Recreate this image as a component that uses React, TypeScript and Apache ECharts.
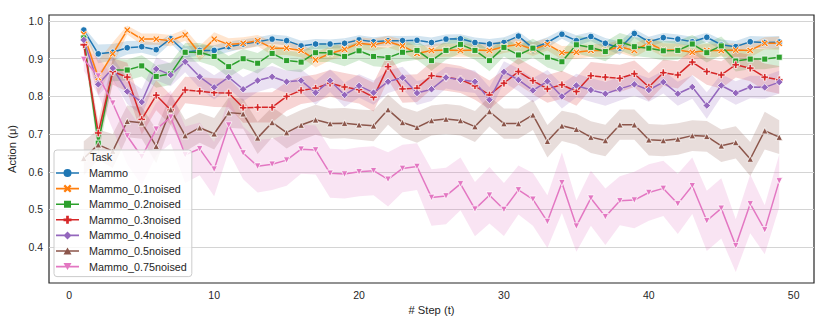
import React, { useEffect, useRef } from 'react';
import * as echarts from 'echarts';

const steps = [
  1, 2, 3, 4, 5, 6, 7, 8, 9, 10, 11, 12, 13, 14, 15, 16, 17, 18, 19, 20, 21, 22, 23, 24, 25,
  26, 27, 28, 29, 30, 31, 32, 33, 34, 35, 36, 37, 38, 39, 40, 41, 42, 43, 44, 45, 46, 47, 48, 49,
];

const taskNames = [
  'Mammo',
  'Mammo_0.1noised',
  'Mammo_0.2noised',
  'Mammo_0.3noised',
  'Mammo_0.4noised',
  'Mammo_0.5noised',
  'Mammo_0.75noised',
];

const mammo = [
  0.976, 0.913, 0.917, 0.929, 0.932, 0.924, 0.953, 0.918, 0.922, 0.922, 0.932, 0.939, 0.945, 0.952, 0.948,
  0.934, 0.939, 0.939, 0.941, 0.95, 0.945, 0.948, 0.948, 0.949, 0.943, 0.952, 0.953, 0.943, 0.939, 0.943,
  0.96, 0.928, 0.943, 0.965, 0.948, 0.959, 0.941, 0.928, 0.967, 0.945, 0.956, 0.952, 0.945, 0.957, 0.937,
  0.932, 0.945, 0.943, 0.944,
];
const mammoCi = [
  0.008, 0.025, 0.022, 0.018, 0.016, 0.018, 0.012, 0.015, 0.014, 0.014, 0.014, 0.012, 0.012, 0.012, 0.013,
  0.014, 0.013, 0.012, 0.013, 0.012, 0.012, 0.013, 0.012, 0.012, 0.013, 0.012, 0.012, 0.013, 0.013, 0.014,
  0.012, 0.016, 0.014, 0.012, 0.014, 0.012, 0.014, 0.018, 0.012, 0.013, 0.012, 0.012, 0.013, 0.012, 0.014,
  0.015, 0.015, 0.016, 0.016,
];

const noised01 = [
  0.965, 0.85, 0.913, 0.976, 0.952, 0.952, 0.948, 0.963, 0.914, 0.952, 0.938, 0.941, 0.948, 0.928, 0.928,
  0.922, 0.897, 0.914, 0.925, 0.941, 0.937, 0.945, 0.934, 0.914, 0.922, 0.923, 0.922, 0.923, 0.922, 0.932,
  0.938, 0.925, 0.938, 0.916, 0.917, 0.922, 0.922, 0.932, 0.922, 0.941, 0.923, 0.923, 0.917, 0.922, 0.922,
  0.923, 0.922, 0.941, 0.941,
];
const noised01Ci = [
  0.012, 0.045, 0.03, 0.012, 0.015, 0.015, 0.015, 0.015, 0.02, 0.018, 0.016, 0.016, 0.015, 0.018, 0.018,
  0.018, 0.02, 0.018, 0.017, 0.016, 0.016, 0.015, 0.017, 0.018, 0.018, 0.018, 0.017, 0.018, 0.018, 0.017,
  0.016, 0.018, 0.016, 0.018, 0.018, 0.017, 0.017, 0.017, 0.018, 0.016, 0.018, 0.017, 0.018, 0.018, 0.017,
  0.018, 0.018, 0.016, 0.017,
];

const noised02 = [
  0.955, 0.676, 0.87, 0.87, 0.881, 0.853, 0.86, 0.917, 0.917, 0.906, 0.879, 0.9, 0.888, 0.914, 0.895,
  0.891, 0.916, 0.916, 0.906, 0.921, 0.906, 0.903, 0.917, 0.922, 0.895, 0.922, 0.938, 0.922, 0.895, 0.93,
  0.91, 0.928, 0.904, 0.892, 0.937, 0.93, 0.919, 0.945, 0.932, 0.928, 0.921, 0.922, 0.939, 0.916, 0.934,
  0.894, 0.899, 0.899, 0.904,
];
const noised02Ci = [
  0.02, 0.03, 0.03, 0.028, 0.028, 0.03, 0.03, 0.025, 0.025, 0.026, 0.028, 0.026, 0.027, 0.025, 0.026,
  0.027, 0.025, 0.025, 0.026, 0.025, 0.026, 0.026, 0.025, 0.025, 0.027, 0.025, 0.024, 0.025, 0.028, 0.024,
  0.026, 0.025, 0.027, 0.028, 0.024, 0.025, 0.026, 0.023, 0.025, 0.025, 0.026, 0.025, 0.024, 0.026, 0.025,
  0.028, 0.027, 0.027, 0.026,
];

const noised03 = [
  0.937, 0.703, 0.866, 0.851, 0.739, 0.803, 0.764, 0.817, 0.814, 0.81, 0.809, 0.77, 0.771, 0.771, 0.8,
  0.816, 0.822, 0.835, 0.825, 0.818, 0.798, 0.879, 0.82, 0.822, 0.855, 0.851, 0.845, 0.828, 0.804, 0.835,
  0.866, 0.842, 0.82, 0.831, 0.813, 0.855, 0.851, 0.848, 0.86, 0.825, 0.863, 0.857, 0.891, 0.866, 0.857,
  0.884, 0.875, 0.851, 0.844,
];
const noised03Ci = [
  0.02, 0.03, 0.035, 0.038, 0.04, 0.04, 0.04, 0.035, 0.037, 0.038, 0.038, 0.04, 0.04, 0.04, 0.038,
  0.036, 0.036, 0.035, 0.037, 0.037, 0.038, 0.035, 0.037, 0.037, 0.036, 0.036, 0.036, 0.037, 0.038, 0.036,
  0.035, 0.036, 0.037, 0.037, 0.038, 0.036, 0.036, 0.036, 0.035, 0.037, 0.035, 0.036, 0.034, 0.035, 0.036,
  0.034, 0.035, 0.036, 0.037,
];

const noised04 = [
  0.95, 0.832, 0.875, 0.813, 0.785, 0.873, 0.857, 0.892, 0.852, 0.824, 0.851, 0.819, 0.842, 0.852, 0.839,
  0.842, 0.81, 0.842, 0.804, 0.828, 0.81, 0.839, 0.85, 0.809, 0.819, 0.85, 0.844, 0.839, 0.791, 0.865,
  0.844, 0.816, 0.84, 0.8, 0.829, 0.817, 0.807, 0.82, 0.832, 0.817, 0.838, 0.807, 0.825, 0.776, 0.829,
  0.809, 0.825, 0.824, 0.838,
];
const noised04Ci = [
  0.015, 0.03, 0.03, 0.033, 0.035, 0.03, 0.03, 0.028, 0.03, 0.032, 0.03, 0.032, 0.03, 0.029, 0.03,
  0.03, 0.032, 0.03, 0.032, 0.031, 0.032, 0.03, 0.029, 0.032, 0.031, 0.029, 0.03, 0.03, 0.033, 0.028,
  0.03, 0.032, 0.03, 0.032, 0.031, 0.031, 0.032, 0.031, 0.03, 0.031, 0.03, 0.032, 0.031, 0.035, 0.03,
  0.031, 0.03, 0.03, 0.03,
];

const noised05 = [
  0.636, 0.672, 0.655, 0.734, 0.73, 0.668, 0.765, 0.696, 0.717, 0.701, 0.757, 0.754, 0.69, 0.731, 0.704,
  0.724, 0.738, 0.728, 0.729, 0.725, 0.722, 0.765, 0.731, 0.718, 0.736, 0.74, 0.736, 0.72, 0.76, 0.728,
  0.728, 0.751, 0.681, 0.722, 0.713, 0.692, 0.683, 0.725, 0.725, 0.685, 0.683, 0.687, 0.696, 0.694, 0.669,
  0.678, 0.634, 0.709, 0.692,
];
const noised05Ci = [
  0.045, 0.04, 0.045, 0.042, 0.042, 0.045, 0.04, 0.042, 0.04, 0.042, 0.04, 0.04, 0.043, 0.04, 0.042,
  0.04, 0.04, 0.04, 0.04, 0.04, 0.041, 0.04, 0.04, 0.041, 0.04, 0.04, 0.04, 0.041, 0.04, 0.04,
  0.04, 0.04, 0.043, 0.04, 0.041, 0.042, 0.042, 0.04, 0.04, 0.042, 0.042, 0.042, 0.041, 0.041, 0.043,
  0.043, 0.045, 0.05, 0.045,
];

const noised075 = [
  0.898, 0.854, 0.782, 0.695, 0.64, 0.713, 0.745, 0.645, 0.661, 0.607, 0.724, 0.65, 0.615, 0.62, 0.631,
  0.66, 0.658, 0.596, 0.594, 0.6, 0.603, 0.58, 0.609, 0.614, 0.532, 0.536, 0.568, 0.501, 0.538, 0.5,
  0.552, 0.527, 0.468, 0.571, 0.456, 0.53, 0.481, 0.523, 0.525, 0.545, 0.556, 0.515, 0.563, 0.47, 0.503,
  0.404, 0.515, 0.446, 0.576,
];
const noised075Ci = [
  0.03, 0.05, 0.07, 0.075, 0.075, 0.07, 0.07, 0.075, 0.07, 0.072, 0.07, 0.07, 0.07, 0.068, 0.068,
  0.065, 0.065, 0.065, 0.065, 0.065, 0.065, 0.072, 0.063, 0.062, 0.075, 0.075, 0.07, 0.072, 0.075, 0.07,
  0.065, 0.07, 0.07, 0.08, 0.068, 0.073, 0.075, 0.065, 0.075, 0.075, 0.073, 0.08, 0.075, 0.08, 0.08,
  0.07, 0.078, 0.065, 0.07,
];

const xMin = -1.4;
const xMax = 51.4;
const yMin = 0.305;
const yMax = 1.016;

const X_PATH = 'path://M2,0 L5,3 L8,0 L10,2 L7,5 L10,8 L8,10 L5,7 L2,10 L0,8 L3,5 L0,2 Z';
const P_PATH =
  'path://M3.4,0 L6.6,0 L6.6,3.4 L10,3.4 L10,6.6 L6.6,6.6 L6.6,10 L3.4,10 L3.4,6.6 L0,6.6 L0,3.4 L3.4,3.4 Z';

// legend icons: a solid line with the marker in the middle (23 x 8 box)
const LEG_LINE = 'M0,3.2 L23,3.2 L23,4.8 L0,4.8 Z ';
const LEGEND_ICONS = [
  'path://' + LEG_LINE + 'M15.5,4 A4,4 0 1 1 7.5,4 A4,4 0 1 1 15.5,4 Z',
  'path://' + LEG_LINE +
    'M9.1,0 L11.5,2.4 L13.9,0 L15.5,1.6 L13.1,4 L15.5,6.4 L13.9,8 L11.5,5.6 L9.1,8 L7.5,6.4 L9.9,4 L7.5,1.6 Z',
  'path://' + LEG_LINE + 'M8,0.5 L15,0.5 L15,7.5 L8,7.5 Z',
  'path://' + LEG_LINE +
    'M10.15,0 L12.85,0 L12.85,2.65 L15.5,2.65 L15.5,5.35 L12.85,5.35 L12.85,8 L10.15,8 L10.15,5.35 L7.5,5.35 L7.5,2.65 L10.15,2.65 Z',
  'path://' + LEG_LINE + 'M11.5,0 L15.5,4 L11.5,8 L7.5,4 Z',
  'path://' + LEG_LINE + 'M11.5,0.5 L15.5,7.5 L7.5,7.5 Z',
  'path://' + LEG_LINE + 'M7.5,0.5 L15.5,0.5 L11.5,7.5 Z',
];

const FONT = '"Liberation Sans", Arial, Helvetica, sans-serif';
const TEXT = '#262626';

const SERIES = [
  { name: taskNames[0], mean: mammo, ci: mammoCi, color: '#1f77b4', rgb: '31,119,180', symbol: 'circle', size: 6.5, rotate: 0 },
  { name: taskNames[1], mean: noised01, ci: noised01Ci, color: '#ff7f0e', rgb: '255,127,14', symbol: X_PATH, size: 7, rotate: 0 },
  { name: taskNames[2], mean: noised02, ci: noised02Ci, color: '#2ca02c', rgb: '44,160,44', symbol: 'rect', size: 6, rotate: 0 },
  { name: taskNames[3], mean: noised03, ci: noised03Ci, color: '#d62728', rgb: '214,39,40', symbol: P_PATH, size: 7.5, rotate: 0 },
  { name: taskNames[4], mean: noised04, ci: noised04Ci, color: '#9467bd', rgb: '148,103,189', symbol: 'diamond', size: 7.5, rotate: 0 },
  { name: taskNames[5], mean: noised05, ci: noised05Ci, color: '#8c564b', rgb: '140,86,75', symbol: 'triangle', size: 6.5, rotate: 0 },
  { name: taskNames[6], mean: noised075, ci: noised075Ci, color: '#e377c2', rgb: '227,119,194', symbol: 'triangle', size: 6.5, rotate: 180 },
];

export default function App() {
  const ref = useRef<HTMLDivElement>(null);

  useEffect(() => {
    if (!ref.current) return;
    const chart = echarts.init(ref.current, undefined, { renderer: 'svg' });

    const bands = SERIES.map((s) => ({
      type: 'custom',
      silent: true,
      z: 1,
      data: [[steps[0], s.mean[0]]],
      renderItem: (_params: any, api: any) => {
        const upper = s.mean.map((m, i) => api.coord([steps[i], m + s.ci[i]]));
        const lower = s.mean.map((m, i) => api.coord([steps[i], m - s.ci[i]])).reverse();
        return {
          type: 'polygon',
          shape: { points: upper.concat(lower) },
          style: { fill: `rgba(${s.rgb},0.2)`, stroke: 'none' },
          silent: true,
        };
      },
    }));

    const lines = SERIES.map((s) => ({
      type: 'line',
      name: s.name,
      z: 3,
      data: steps.map((x, i) => [x, s.mean[i]]),
      symbol: s.symbol,
      symbolSize: s.size,
      symbolRotate: s.rotate,
      showSymbol: true,
      lineStyle: { color: s.color, width: 1.5, type: 'solid' },
      itemStyle: { color: s.color, borderColor: '#ffffff', borderWidth: 0.75 },
      emphasis: { disabled: true },
      silent: true,
    }));

    chart.setOption({
      animation: false,
      backgroundColor: '#ffffff',
      grid: {
        left: 49,
        right: 16,
        top: 15,
        bottom: 44,
        show: true,
        borderColor: '#262626',
        borderWidth: 1.2,
        backgroundColor: 'transparent',
        outerBoundsMode: 'none',
        containLabel: false,
      },
      xAxis: {
        type: 'value',
        min: xMin,
        max: xMax,
        minInterval: 10,
        maxInterval: 10,
        splitNumber: 5,
        name: '# Step (t)',
        nameLocation: 'middle',
        nameGap: 21,
        nameTextStyle: { fontFamily: FONT, fontSize: 11.2, color: TEXT },
        axisLine: { show: false },
        axisTick: { show: false },
        splitLine: { show: false },
        axisLabel: {
          fontFamily: FONT,
          fontSize: 10.5,
          color: TEXT,
          margin: 6,
          showMinLabel: false,
          showMaxLabel: false,
          formatter: (v: number) => String(Math.round(v)),
        },
      },
      yAxis: {
        type: 'value',
        min: yMin,
        max: yMax,
        minInterval: 0.1,
        maxInterval: 0.1,
        splitNumber: 7,
        name: 'Action (μ)',
        nameLocation: 'middle',
        nameGap: 29,
        nameRotate: 90,
        nameTextStyle: { fontFamily: FONT, fontSize: 11.2, color: TEXT },
        axisLine: { show: false },
        axisTick: { show: false },
        splitLine: {
          show: true,
          showMinLine: false,
          showMaxLine: false,
          lineStyle: { color: '#d4d4d4', width: 1 },
        },
        axisLabel: {
          fontFamily: FONT,
          fontSize: 10.5,
          color: TEXT,
          margin: 6,
          showMinLabel: false,
          showMaxLabel: false,
          formatter: (v: number) => v.toFixed(1),
        },
      },
      legend: {
        data: taskNames.map((n, i) => ({ name: n, icon: LEGEND_ICONS[i] })),
        orient: 'vertical',
        left: 54,
        top: 150,
        padding: [17, 5, 4, 2],
        itemWidth: 23,
        itemHeight: 8,
        itemGap: 3.6,
        symbolKeepAspect: true,
        itemStyle: { borderWidth: 0 },
        backgroundColor: 'rgba(255,255,255,0.8)',
        borderColor: '#cccccc',
        borderWidth: 1,
        borderRadius: 3,
        z: 10,
        selectedMode: false,
        textStyle: { fontFamily: FONT, fontSize: 10.8, color: TEXT, lineHeight: 12, padding: [0, 0, 0, 5] },
      },
      graphic: [
        {
          type: 'text',
          left: 90,
          top: 151,
          z: 100,
          style: { text: 'Task', fontFamily: FONT, fontSize: 10.8, fill: TEXT },
        },
      ],
      series: [...bands, ...lines],
    });

    return () => chart.dispose();
  }, []);

  return <div ref={ref} style={{ position: 'fixed', left: 0, top: 0, width: 830, height: 327 }} />;
}
